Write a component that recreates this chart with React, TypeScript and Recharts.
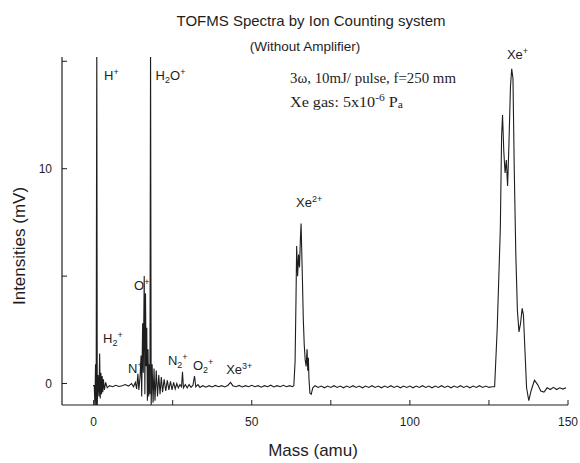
import { LineChart, Line, XAxis, YAxis, ReferenceDot } from "recharts";

// [mass (amu), intensity (mV)], region by region
const lightIons: [number, number][] = [
  [-0.2, -0.1], [0.2, -0.1], [0.4, -1.0], [0.6, 0.9], [0.8, -1.0], [1.0, 16],
  [1.15, -1.0], [1.4, 0.4], [1.7, -0.6], [1.9, 1.4], [2.1, -0.7], [2.3, 0.5],
  [2.5, -0.5], [2.7, 0.35], [2.9, -0.4], [3.1, 0.2], [3.4, -0.3], [3.8, 0.05],
  [4.3, -0.2], [5, -0.1], [6, -0.15], [7, -0.08], [8, -0.14], [9, -0.1],
  [10, -0.05], [11, -0.12], [12, 0.0], [12.6, -0.15], [13.2, 0.05], [13.6, -0.25],
  [14.0, 0.45], [14.3, -0.3], [14.7, 0.35], [15.0, 1.3], [15.2, -0.6], [15.5, 2.8],
  [15.7, 0.5], [16.0, 5.0], [16.2, -0.5], [16.4, 4.2], [16.6, 0.8], [16.8, 2.6],
  [17.0, -0.8], [17.2, 1.6], [17.4, -0.6], [17.6, 0.9], [17.8, -0.5], [18.0, 16],
  [18.2, -1.0], [18.5, 0.9], [18.8, -0.9], [19.1, 0.7], [19.4, -0.8], [19.8, 0.6],
  [20.2, -0.6], [20.6, 0.4], [21.0, -0.5], [21.4, 0.3], [21.8, -0.4], [22.3, 0.2],
  [22.8, -0.35], [23.3, 0.15], [23.8, -0.3], [24.3, 0.1], [24.8, -0.3], [25.3, 0.05],
  [25.8, -0.25], [26.3, 0.0], [26.8, -0.2], [27.3, -0.05], [27.8, -0.15], [28.1, 0.55],
  [28.4, -0.2], [29, -0.05], [29.6, -0.2], [30.2, -0.05], [30.8, -0.18], [31.4, -0.08],
  [31.9, 0.35], [32.3, -0.15], [33, -0.05], [33.6, -0.18],
];

const midBaseline: [number, number][] = [
  [34.5, -0.1], [35.5, -0.17], [36.5, -0.1], [37.5, -0.16], [38.5, -0.09], [39.5, -0.15],
  [40.5, -0.1], [41.5, -0.16], [42.5, -0.08], [43.3, 0.05], [44, -0.1], [45, -0.15],
  [46, -0.09], [47, -0.16], [48, -0.1], [49, -0.15], [50, -0.08], [51, -0.15],
  [52, -0.1], [53, -0.17], [54, -0.1], [55, -0.15], [56, -0.08], [57, -0.16],
  [58, -0.1], [59, -0.15], [60, -0.08], [61, -0.15], [62, -0.1], [62.8, -0.15],
];

const xe2Peak: [number, number][] = [
  [63.3, -0.1], [63.7, 1.0], [64.0, 4.0], [64.2, 6.4], [64.5, 5.0], [64.8, 6.0],
  [65.1, 5.4], [65.4, 6.8], [65.6, 7.45], [65.8, 6.2], [66.0, 5.0], [66.3, 3.0],
  [66.6, 1.8], [66.9, 1.1], [67.2, 0.8], [67.5, 1.6], [67.7, 0.6], [67.9, 1.2],
  [68.1, 0.2], [68.4, -0.45], [68.8, -0.5], [69.3, -0.2], [70, -0.1],
];

const highBaseline: [number, number][] = [
  [71, -0.18], [72, -0.12], [73, -0.2], [74, -0.12], [75, -0.18], [76, -0.1],
  [77, -0.18], [78, -0.12], [79, -0.2], [80, -0.12], [81, -0.18], [82, -0.1],
  [83, -0.18], [84, -0.12], [85, -0.2], [86, -0.12], [87, -0.18], [88, -0.1],
  [89, -0.18], [90, -0.12], [91, -0.2], [92, -0.12], [93, -0.18], [94, -0.1],
  [95, -0.18], [96, -0.12], [97, -0.2], [98, -0.12], [99, -0.18], [100, -0.12],
  [101, -0.2], [102, -0.12], [103, -0.18], [104, -0.1], [105, -0.18], [106, -0.12],
  [107, -0.2], [108, -0.12], [109, -0.18], [110, -0.1], [111, -0.18], [112, -0.12],
  [113, -0.2], [114, -0.12], [115, -0.18], [116, -0.1], [117, -0.18], [118, -0.12],
  [119, -0.2], [120, -0.12], [121, -0.18], [122, -0.1], [123, -0.18], [124, -0.12],
  [125, -0.18], [126, -0.15],
];

const xe1Peak: [number, number][] = [
  [126.8, -0.15], [127.6, 2.5], [128.6, 7.2], [129.0, 11.5], [129.3, 12.5], [129.7, 10.8],
  [130.1, 9.8], [130.5, 10.4], [130.9, 9.2], [131.3, 11.0], [131.8, 13.8], [132.2, 14.65],
  [132.6, 14.2], [133.0, 10.0], [133.5, 6.0], [134.0, 3.4], [134.5, 2.4], [135.0, 2.8],
  [135.5, 3.5], [135.9, 3.2], [136.4, 1.5], [136.9, -0.2], [137.6, -0.8], [138.4, -0.3],
  [139.4, 0.15], [140.4, -0.05], [141.4, -0.35], [142.4, -0.4], [143.4, -0.2], [144.4, -0.28],
  [145.4, -0.18], [146.4, -0.28], [147.4, -0.2], [148.4, -0.26], [149.4, -0.2],
];

const spectrum = [...lightIons, ...midBaseline, ...xe2Peak, ...highBaseline, ...xe1Peak].map(
  ([mass, mV]) => ({ mass, mV })
);

const massTicks = [0, 25, 50, 75, 100, 125, 150];
const massLabels = [0, 50, 100, 150];
const mvTicks = [0, 5, 10, 15];
const mvLabels = [0, 10];

type Seg = { t: string; s?: "sub" | "sup" };
// peak annotations, anchored at (mass, mV) of the label's left baseline
const peakLabels: { mass: number; mV: number; text: Seg[] }[] = [
  { mass: 3.3, mV: 14.15, text: [{ t: "H" }, { t: "+", s: "sup" }] },
  { mass: 19.6, mV: 14.15, text: [{ t: "H" }, { t: "2", s: "sub" }, { t: "O" }, { t: "+", s: "sup" }] },
  { mass: 130.7, mV: 15.1, text: [{ t: "Xe" }, { t: "+", s: "sup" }] },
  { mass: 64.0, mV: 8.2, text: [{ t: "Xe" }, { t: "2+", s: "sup" }] },
  { mass: 12.8, mV: 4.35, text: [{ t: "O" }, { t: "+", s: "sup" }] },
  { mass: 3.0, mV: 1.9, text: [{ t: "H" }, { t: "2", s: "sub" }, { t: "+", s: "sup" }] },
  { mass: 10.9, mV: 0.5, text: [{ t: "N" }, { t: "+", s: "sup" }] },
  { mass: 23.5, mV: 0.86, text: [{ t: "N" }, { t: "2", s: "sub" }, { t: "+", s: "sup" }] },
  { mass: 31.4, mV: 0.63, text: [{ t: "O" }, { t: "2", s: "sub" }, { t: "+", s: "sup" }] },
  { mass: 41.9, mV: 0.45, text: [{ t: "Xe" }, { t: "3+", s: "sup" }] },
];

const SANS = "'Liberation Sans', Arial, sans-serif";
const SERIF = "'Liberation Serif', 'Times New Roman', serif";
const INK = "#1e1e1e";

function renderPeakLabel(props: any, text: Seg[]) {
  const { x, y } = props.viewBox;
  let cur = 0;
  return (
    <text x={x} y={y} fontSize={13} fill={INK} fontFamily={SANS}>
      {text.map((seg, i) => {
        const target = seg.s === "sup" ? -5 : seg.s === "sub" ? 3 : 0;
        const dy = target - cur;
        cur = target;
        return (
          <tspan key={i} dy={dy} fontSize={seg.s ? 9 : 13}>
            {seg.t}
          </tspan>
        );
      })}
    </text>
  );
}

const MassTick = ({ x, y, payload }: any) => (
  <g>
    <line x1={x} y1={y} x2={x} y2={y - 5} stroke={INK} />
    {massLabels.includes(payload.value) && (
      <text x={x} y={y + 21} textAnchor="middle" fontSize={12} fill={INK} fontFamily={SANS}>
        {payload.value}
      </text>
    )}
  </g>
);

const MvTick = ({ x, y, payload }: any) => (
  <g>
    <line x1={x} y1={y} x2={x + 5} y2={y} stroke={INK} />
    {mvLabels.includes(payload.value) && (
      <text x={x - 10} y={y + 4} textAnchor="end" fontSize={12} fill={INK} fontFamily={SANS}>
        {payload.value}
      </text>
    )}
  </g>
);

export default function App() {
  return (
    <div style={{ position: "absolute", left: 0, top: 0, width: 580, height: 463, background: "#fff" }}>
      <LineChart
        width={580}
        height={463}
        data={spectrum}
        margin={{ top: 57, right: 12, bottom: 0, left: 0 }}
      >
        <XAxis
          dataKey="mass"
          type="number"
          domain={[-10, 150]}
          ticks={massTicks}
          allowDataOverflow
          height={58}
          tickSize={0}
          tickMargin={0}
          tick={<MassTick />}
          axisLine={{ stroke: INK, strokeWidth: 1.2 }}
        />
        <YAxis
          type="number"
          domain={[-1, 15.2]}
          ticks={mvTicks}
          allowDataOverflow
          width={62}
          tickSize={0}
          tickMargin={0}
          tick={<MvTick />}
          axisLine={{ stroke: INK, strokeWidth: 1.2 }}
        />
        <Line
          dataKey="mV"
          type="linear"
          stroke={INK}
          strokeWidth={1.1}
          dot={false}
          isAnimationActive={false}
        />
        {peakLabels.map((p, i) => (
          <ReferenceDot
            key={i}
            x={p.mass}
            y={p.mV}
            r={0}
            fill="none"
            stroke="none"
            ifOverflow="visible"
            label={(props: any) => renderPeakLabel(props, p.text)}
          />
        ))}
      </LineChart>
      <svg
        width={580}
        height={463}
        style={{ position: "absolute", left: 0, top: 0, pointerEvents: "none" }}
      >
        <text x={311} y={26} textAnchor="middle" fontSize={15} fill={INK} fontFamily={SANS}>
          TOFMS Spectra by Ion Counting system
        </text>
        <text x={305} y={51} textAnchor="middle" fontSize={13.5} fill={INK} fontFamily={SANS}>
          (Without Amplifier)
        </text>
        <text x={290} y={83} fontSize={14} fill={INK} fontFamily={SERIF} textLength={166} lengthAdjust="spacingAndGlyphs">
          3ω, 10mJ/ pulse, f=250 mm
        </text>
        <text x={290} y={107} fontSize={14} fill={INK} fontFamily={SERIF} textLength={113} lengthAdjust="spacingAndGlyphs">
          Xe gas: 5x10<tspan dy={-6} fontSize={10}>-6</tspan>
          <tspan dy={6}> P</tspan>
          <tspan dy={1} fontSize={10}>a</tspan>
        </text>
        <text
          x={25}
          y={246}
          transform="rotate(-90 25 246)"
          textAnchor="middle"
          fontSize={17}
          fill={INK}
          fontFamily={SANS}
        >
          Intensities (mV)
        </text>
        <text x={313} y={456} textAnchor="middle" fontSize={17} fill={INK} fontFamily={SANS}>
          Mass (amu)
        </text>
      </svg>
    </div>
  );
}
